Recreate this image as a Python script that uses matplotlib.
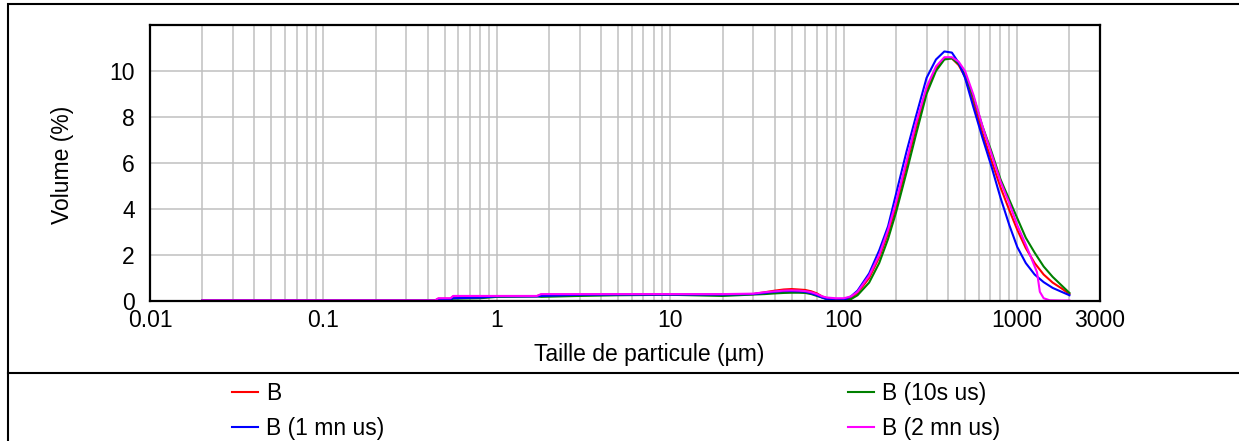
import numpy as np
import matplotlib
matplotlib.use("Agg")
from matplotlib import pyplot as plt
from matplotlib.lines import Line2D
from matplotlib.patches import Rectangle
from matplotlib.ticker import FixedLocator, NullFormatter, LogLocator

plt.rcParams['font.family'] = ['Liberation Sans', 'DejaVu Sans']

# particle sizes (um) shared by B, B (10s us), B (1 mn us)
size = [0.02, 0.1, 0.3, 0.44, 0.46, 0.54, 0.56, 0.8, 1.0, 1.7, 1.8, 3, 5, 10, 20,
        30, 35, 40, 45, 50, 55, 60, 65, 70, 75, 80, 90, 100, 110, 120, 140, 160,
        180, 200, 230, 260, 300, 340, 380, 420, 460, 500, 560, 630, 710, 800, 900,
        1000, 1120, 1260, 1420, 1600, 1800, 2000]

vol_b = [0.02, 0.02, 0.02, 0.02, 0.1, 0.1, 0.2, 0.2, 0.2, 0.21, 0.28, 0.28, 0.29, 0.29, 0.28,
         0.3, 0.38, 0.45, 0.5, 0.52, 0.5, 0.48, 0.42, 0.33, 0.2, 0.12, 0.08, 0.05, 0.15, 0.35,
         1.0, 1.9, 2.95, 4.1, 5.9, 7.5, 9.2, 10.1, 10.55, 10.55, 10.25, 9.75, 8.6, 7.3, 6.1,
         4.95, 3.95, 3.1, 2.3, 1.65, 1.15, 0.8, 0.55, 0.3]

vol_b10s = [0.02, 0.02, 0.02, 0.02, 0.06, 0.06, 0.1, 0.12, 0.18, 0.2, 0.18, 0.22, 0.25, 0.27, 0.22,
            0.28, 0.3, 0.33, 0.35, 0.36, 0.36, 0.35, 0.3, 0.22, 0.15, 0.08, 0.02, 0.0, 0.08, 0.25,
            0.8, 1.65, 2.7, 3.85, 5.6, 7.2, 9.0, 10.0, 10.5, 10.55, 10.3, 9.85, 8.85, 7.6, 6.5,
            5.3, 4.4, 3.6, 2.75, 2.1, 1.5, 1.05, 0.68, 0.35]

vol_b1mn = [0.02, 0.02, 0.02, 0.02, 0.08, 0.08, 0.12, 0.15, 0.2, 0.2, 0.22, 0.27, 0.28, 0.28, 0.28,
            0.3, 0.35, 0.4, 0.43, 0.43, 0.42, 0.4, 0.33, 0.25, 0.15, 0.08, 0.03, 0.05, 0.2, 0.45,
            1.2, 2.2, 3.25, 4.65, 6.5, 8.0, 9.7, 10.5, 10.85, 10.8, 10.35, 9.7, 8.4, 7.1, 5.85,
            4.5, 3.3, 2.35, 1.65, 1.15, 0.82, 0.57, 0.4, 0.25]

size_m = [0.02, 0.1, 0.3, 0.44, 0.46, 0.54, 0.56, 0.8, 1.0, 1.7, 1.8, 3, 5, 10, 20,
          30, 35, 40, 45, 50, 55, 60, 65, 70, 75, 80, 90, 100, 110, 120, 140, 160,
          180, 200, 230, 260, 300, 340, 380, 420, 460, 500, 560, 630, 710, 800, 900,
          1000, 1120, 1200, 1300, 1350, 1420, 1540, 1800, 2000]

vol_b2mn = [0.03, 0.03, 0.03, 0.03, 0.12, 0.12, 0.22, 0.22, 0.22, 0.22, 0.3, 0.3, 0.3, 0.3, 0.3,
            0.32, 0.38, 0.42, 0.45, 0.46, 0.45, 0.43, 0.38, 0.3, 0.2, 0.15, 0.12, 0.12, 0.2, 0.4,
            1.1, 2.0, 3.1, 4.3, 6.1, 7.7, 9.3, 10.2, 10.6, 10.6, 10.4, 10.0, 8.95, 7.6, 6.4,
            5.2, 4.25, 3.3, 2.45, 1.9, 1.25, 0.4, 0.12, 0.03, 0.02, 0.02]

xticks = [0.01, 0.1, 1, 10, 100, 1000, 3000]
xticklabels = ['0.01', '0.1', '1', '10', '100', '1000', '3000']
yticks = [0, 2, 4, 6, 8, 10]

W, H = 1239, 441
fs = 16.5
fig = plt.figure(figsize=(W / 100, H / 100), dpi=100)
ax = fig.add_axes([150 / W, 1 - 301 / H, 950 / W, 276 / H])

l1, = ax.plot(size, vol_b, color='#ff0000', lw=1.5, label='B')
l3, = ax.plot(size, vol_b10s, color='#008000', lw=1.5, label='B (10s us)')
l2, = ax.plot(size, vol_b1mn, color='#0000ff', lw=1.5, label='B (1 mn us)')
l4, = ax.plot(size_m, vol_b2mn, color='#ff00ff', lw=1.5, label='B (2 mn us)')

ax.set_xscale('log')
ax.set_xlim(0.01, 3000)
ax.set_ylim(0, 12)
ax.xaxis.set_major_locator(FixedLocator(xticks))
ax.set_xticklabels(xticklabels)
ax.xaxis.set_minor_locator(LogLocator(base=10, subs=np.arange(2, 10)))
ax.xaxis.set_minor_formatter(NullFormatter())
ax.set_yticks(yticks)
ax.grid(True, which='both', axis='x', color='#c0c0c0', lw=1.1)
ax.grid(True, which='major', axis='y', color='#c0c0c0', lw=1.1)
ax.set_axisbelow(True)
ax.tick_params(which='both', length=0, labelsize=fs)
ax.tick_params(axis='x', pad=6)
ax.tick_params(axis='y', pad=11)
for s in ax.spines.values():
    s.set_linewidth(1.6)
    s.set_color('black')

fig.text(649 / W, 1 - 355 / H, 'Taille de particule (µm)', fontsize=fs, ha='center', va='center')
fig.text(63 / W, 1 - 165 / H, 'Volume (%)', fontsize=fs, ha='center', va='center', rotation=90)

# outer frame and legend separator
fig.add_artist(Rectangle((8 / W, -0.1), 1.2, 1.1 - 4 / H, transform=fig.transFigure,
                         fill=False, lw=1.5, ec='black'))
fig.add_artist(Line2D([8 / W, 1.0], [1 - 373 / H, 1 - 373 / H], transform=fig.transFigure,
                      color='black', lw=1.5))

leg_kw = dict(frameon=False, fontsize=fs, handlelength=1.15, handletextpad=0.35,
              labelspacing=0.52, borderaxespad=0, borderpad=0, loc='upper left')
fig.legend([l1, l2], ['B', 'B (1 mn us)'], bbox_to_anchor=(232 / W, 1 - 382 / H), **leg_kw)
fig.legend([l3, l4], ['B (10s us)', 'B (2 mn us)'], bbox_to_anchor=(848 / W, 1 - 382 / H), **leg_kw)

fig.savefig('out.png', dpi=100)
